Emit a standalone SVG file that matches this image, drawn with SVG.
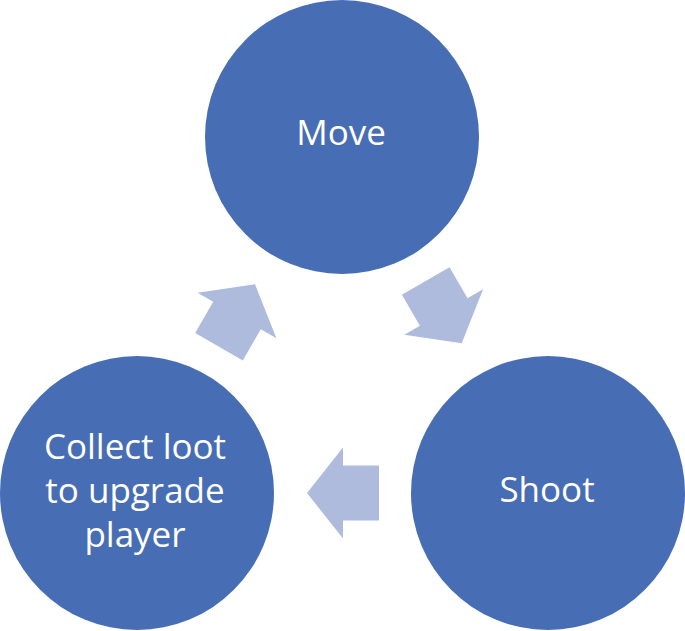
<svg xmlns="http://www.w3.org/2000/svg" width="685" height="631" viewBox="0 0 685 631">
<defs>
<style>
.node{fill:#476DB4;}
.lbl{fill:#FFFFFF;font-family:"Open Sans","Noto Sans","Liberation Sans",sans-serif;font-size:35px;text-anchor:middle;}
.arr{fill:#AEBBDD;}
</style>
<polygon id="arrowShape" points="36,0 0,-45.5 0,-27.5 -36,-27.5 -36,27.5 0,27.5 0,45.5"/>
</defs>
<rect width="685" height="631" fill="#FFFFFF"/>
<g id="connectors">
<use href="#arrowShape" class="arr" transform="translate(443.7,312.1) rotate(60)"/>
<use href="#arrowShape" class="arr" transform="translate(343,493) rotate(180)"/>
<use href="#arrowShape" class="arr" transform="translate(237,315.5) rotate(-60)"/>
</g>
<g id="node-move">
<circle class="node" cx="342" cy="137" r="137"/>
<text class="lbl" x="341" y="145">Move</text>
</g>
<g id="node-shoot">
<circle class="node" cx="548" cy="493" r="137"/>
<text class="lbl" x="547" y="502">Shoot</text>
</g>
<g id="node-collect">
<circle class="node" cx="137" cy="493" r="137"/>
<text class="lbl" x="135" y="459">Collect loot</text>
<text class="lbl" x="135" y="503">to upgrade</text>
<text class="lbl" x="135" y="547">player</text>
</g>
</svg>
